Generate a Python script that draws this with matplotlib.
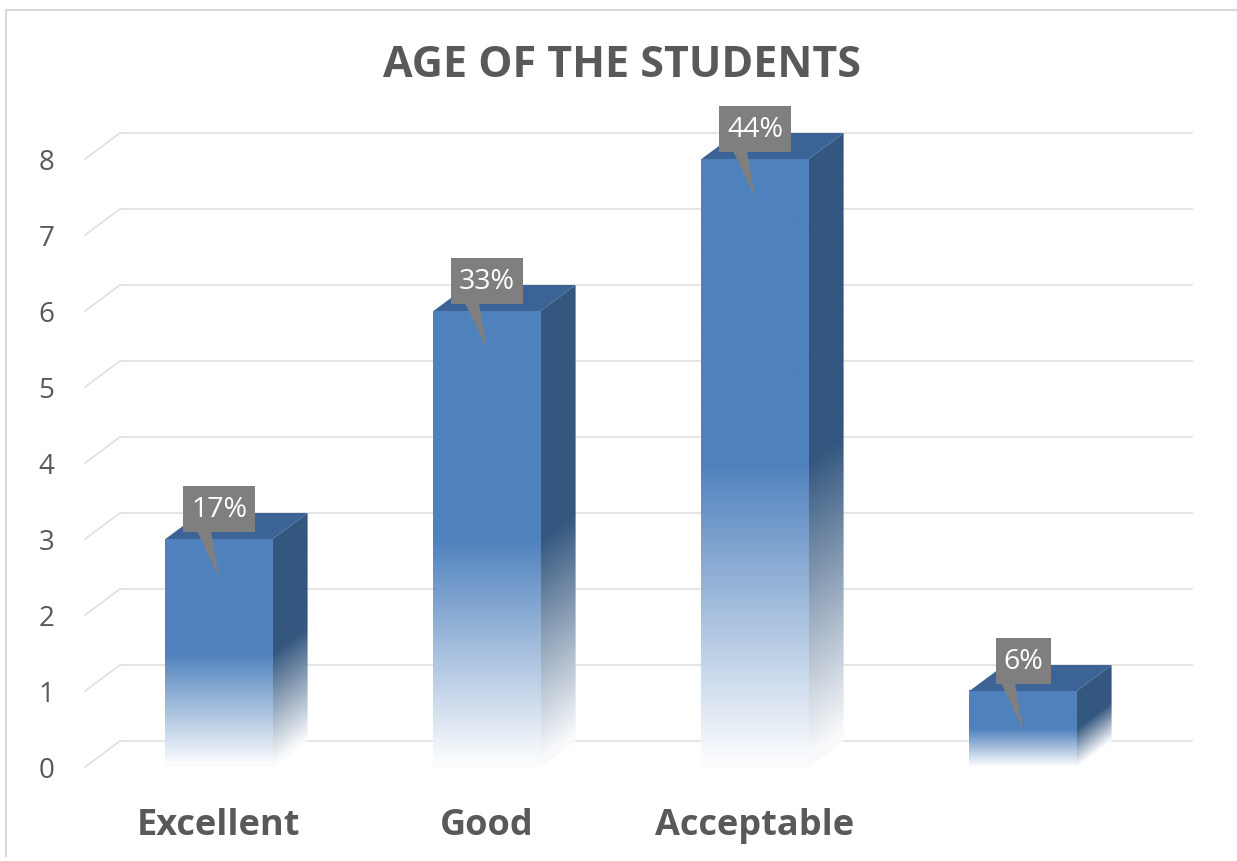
import numpy as np
import matplotlib.pyplot as plt
import matplotlib.transforms as mtransforms
from matplotlib.patches import Polygon, Rectangle
from matplotlib.lines import Line2D

plt.rcParams['font.family'] = ['Open Sans', 'DejaVu Sans']

# data
categories = ['Excellent', 'Good', 'Acceptable', '']
counts = [3, 6, 8, 1]
pct_labels = ['17%', '33%', '44%', '6%']
y_ticks = [0, 1, 2, 3, 4, 5, 6, 7, 8]

FRONT = np.array([79, 129, 189]) / 255
SIDE = np.array([52, 87, 127]) / 255
TOP = '#3b6396'
GRID = '#e2e2e2'
TEXT = '#595959'
WHITE = np.ones(3)
BAR_W = 0.4
DX, DY = 35 / 268, 26 / 76   # 3D depth offset in data units
YMAX = 9.2


def fade(t):
    """solid colour on the upper half, washing out to white towards the base"""
    return np.clip(t / 0.5, 0.03, 1.0)


fig = plt.figure(figsize=(12.37, 8.62), dpi=100)
ax = fig.add_axes([85 / 1237, 94 / 862, 1072 / 1237, YMAX * 76 / 862])
ax.set_xlim(-0.5, 3.5)
ax.set_ylim(0, YMAX)
ax.set_autoscale_on(False)
for s in ax.spines.values():
    s.set_visible(False)

# gridlines (front diagonal + back wall)
for v in y_ticks:
    ax.plot([-0.5, -0.5 + DX, 3.5 + DX], [v, v + DY, v + DY],
            color=GRID, lw=1.3, zorder=0, clip_on=False)

px = mtransforms.Affine2D().scale(fig.dpi / 100)

for i, v in enumerate(counts):
    x0, x1 = i - BAR_W / 2, i + BAR_W / 2

    # front face
    t = np.linspace(0, 1, 300)[:, None]
    w = fade(t)[:, :, None]
    img = WHITE * (1 - w) + FRONT * w
    ax.imshow(img, extent=(x0, x1, 0, v), origin='lower', aspect='auto',
              interpolation='bilinear', zorder=2)

    # side face
    s = np.linspace(0, 1, 60)[None, :]
    yy = np.linspace(0, v + DY, 300)[:, None]
    t = (yy - s * DY) / v
    w = fade(t)[:, :, None]
    img = WHITE * (1 - w) + SIDE * w
    side = Polygon([(x1, 0), (x1 + DX, DY), (x1 + DX, v + DY), (x1, v)],
                   closed=True, transform=ax.transData)
    im = ax.imshow(img, extent=(x1, x1 + DX, 0, v + DY), origin='lower',
                   aspect='auto', interpolation='bilinear', zorder=2)
    im.set_clip_path(side)

    # top face
    ax.add_patch(Polygon([(x0, v), (x1, v), (x1 + DX, v + DY), (x0 + DX, v + DY)],
                         closed=True, fc=TOP, ec='none', zorder=3))

    # callout label
    tr = px + mtransforms.ScaledTranslation(i, v, ax.transData)
    lbl = pct_labels[i]
    bw = 21 + 17 * len(lbl)
    ax.add_patch(Rectangle((-bw / 2, 7), bw, 46, fc='#7f7f7f', ec='none',
                           transform=tr, clip_on=False, zorder=5))
    ax.add_patch(Polygon([(-22, 8), (-8, 8), (0, -38)], closed=True, fc='#7f7f7f',
                         ec='none', transform=tr, clip_on=False, zorder=5))
    ax.text(0, 30, lbl, transform=tr, ha='center', va='center', color='white',
            fontsize=20.5, zorder=6)

ax.set_yticks(y_ticks)
ax.set_yticklabels([str(t) for t in y_ticks])
ax.tick_params(axis='y', length=0, pad=22, labelsize=20, labelcolor=TEXT)
ax.set_xticks(range(len(categories)))
ax.set_xticklabels(categories, fontweight='bold')
ax.tick_params(axis='x', length=0, pad=29, labelsize=26, labelcolor=TEXT)

fig.text(622 / 1237, 1 - 77 / 862, 'AGE OF THE STUDENTS', ha='center', va='baseline',
         fontsize=31, fontweight='bold', color=TEXT)

# chart border (left and top edges)
fig.add_artist(Line2D([6 / 1237, 6 / 1237, 1], [1 - 857 / 862, 1 - 11 / 862, 1 - 11 / 862],
                      transform=fig.transFigure, color='#d9d9d9', lw=1.5))

fig.savefig('out.png', dpi=100)
